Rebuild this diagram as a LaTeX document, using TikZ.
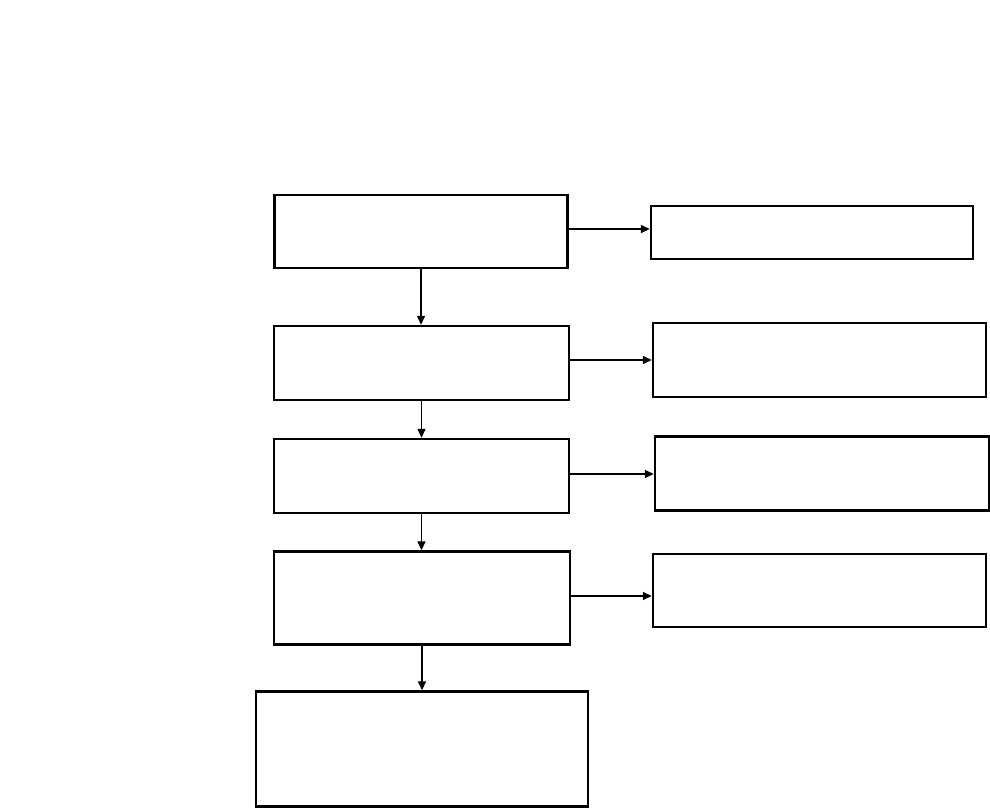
\documentclass[tikz,border=0pt]{standalone}
\usetikzlibrary{arrows.meta}
\begin{document}
\begin{tikzpicture}[x=1pt, y=-1pt,
    stage/.style={draw, line width=2.4pt, inner sep=0pt},
    link/.style={line width=1.4pt, -{Triangle[length=9pt, width=8pt]}}]
    % Page frame
    \useasboundingbox[fill=white] (0,0) rectangle (990,808);

    % Main column
    \node[stage, minimum width=293pt, minimum height=73pt] (s1) at (421,231.5) {};
    \node[stage, minimum width=295pt, minimum height=74pt] (s2) at (421.5,363) {};
    \node[stage, minimum width=295pt, minimum height=74pt] (s3) at (421.5,476) {};
    \node[stage, minimum width=296pt, minimum height=93pt] (s4) at (422,598) {};
    \node[stage, minimum width=332pt, minimum height=115pt] (s5) at (422,749) {};

    % Side boxes
    \node[stage, minimum width=322pt, minimum height=53pt] (r1) at (812,232.5) {};
    \node[stage, minimum width=333pt, minimum height=74pt] (r2) at (819.5,360) {};
    \node[stage, minimum width=334pt, minimum height=74pt] (r3) at (822,473.5) {};
    \node[stage, minimum width=333pt, minimum height=73pt] (r4) at (819.5,590.5) {};

    % Downward links
    \draw[link] (s1.south) -- (s1.south |- s2.north);
    \draw[link] (s2.south) -- (s2.south |- s3.north);
    \draw[link] (s3.south) -- (s3.south |- s4.north);
    \draw[link] (s4.south) -- (s4.south |- s5.north);

    % Side links
    \draw[link] ([yshift=2.5pt]s1.east) -- ([yshift=2.5pt]s1.east -| r1.west);
    \draw[link] ([yshift=3pt]s2.east) -- ([yshift=3pt]s2.east -| r2.west);
    \draw[link] ([yshift=2pt]s3.east) -- ([yshift=2pt]s3.east -| r3.west);
    \draw[link] ([yshift=2pt]s4.east) -- ([yshift=2pt]s4.east -| r4.west);
\end{tikzpicture}
\end{document}
